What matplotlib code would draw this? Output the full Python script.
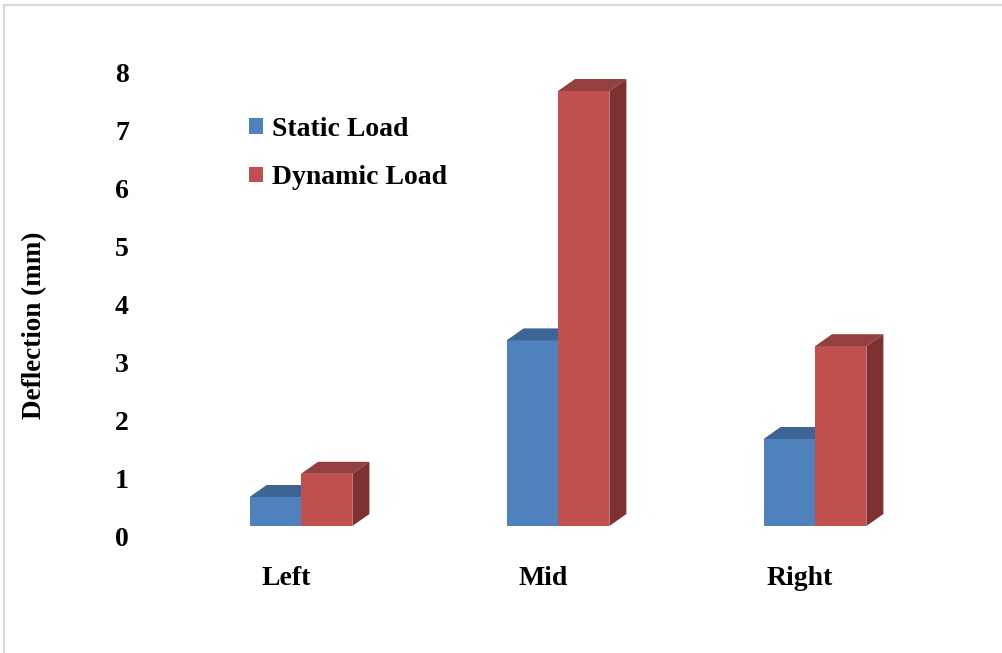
import numpy as np
import matplotlib
matplotlib.use("Agg")
import matplotlib.pyplot as plt
import matplotlib.transforms as mtransforms
from matplotlib.patches import Polygon, Patch, Rectangle

# data
locations = ["Left", "Mid", "Right"]
static_load = [0.5, 3.2, 1.5]
dynamic_load = [0.9, 7.5, 3.1]
series_names = ["Static Load", "Dynamic Load"]
y_ticks = list(range(0, 9))

# colours: front, top, side
blue = ("#4f81bd", "#3d6593", "#345680")
red = ("#c0504d", "#93403e", "#7d3231")

W, H = 1002, 653
fig = plt.figure(figsize=(W / 100, H / 100), dpi=100)
plt.rcParams['font.family'] = ['Liberation Serif', 'DejaVu Serif']
fs = 20

# light frame round the chart area
fig.patches.append(Rectangle((4 / W, -0.05), 1.2, 1 - 5 / H + 0.05, transform=fig.transFigure,
                             fill=False, edgecolor="#d9d9d9", linewidth=1.6))

# axes in pixel terms: x=0 -> 301px, 257px per category; y=0 -> row 526, 58px per unit
left_px, right_px, top_row, bot_row = 140, 960, 40, 560
ax = fig.add_axes([left_px / W, 1 - bot_row / H, (right_px - left_px) / W, (bot_row - top_row) / H])
ax.set_xlim((left_px - 301) / 257, (right_px - 301) / 257)
ax.set_ylim((526 - bot_row) / 58, (526 - top_row) / 58)

bw = 0.2       # bar width (category units)
dx = 17 / 257  # depth offset in x
dy = 12 / 58   # depth offset in y


def bar3d(x0, h, cols, z):
    x1 = x0 + bw
    ax.bar(x0, h, bw, align="edge", color=cols[0], linewidth=0, zorder=z)
    ax.add_patch(Polygon([(x0, h), (x0 + dx, h + dy), (x1 + dx, h + dy), (x1, h)],
                         closed=True, facecolor=cols[1], edgecolor="none", zorder=z))
    ax.add_patch(Polygon([(x1, 0), (x1 + dx, dy), (x1 + dx, h + dy), (x1, h)],
                         closed=True, facecolor=cols[2], edgecolor="none", zorder=z))


for i, (s, d) in enumerate(zip(static_load, dynamic_load)):
    bar3d(i - bw, s, blue, 2 + i * 2)
    bar3d(i, d, red, 3 + i * 2)

for sp in ax.spines.values():
    sp.set_visible(False)

ax.set_yticks(y_ticks)
ax.set_yticklabels([str(t) for t in y_ticks], fontsize=fs, fontweight="bold")
ax.set_xticks(range(len(locations)))
ax.set_xticklabels(locations, fontsize=fs, fontweight="bold")
ax.tick_params(axis="y", length=0, pad=8)
ax.tick_params(axis="x", length=0, pad=4)

# shift labels like the 3-D chart does
off_y = mtransforms.ScaledTranslation(0, -11 / 100, fig.dpi_scale_trans)
for lab in ax.get_yticklabels():
    lab.set_transform(lab.get_transform() + off_y)
off_x = mtransforms.ScaledTranslation(-15 / 100, 0, fig.dpi_scale_trans)
for lab in ax.get_xticklabels():
    lab.set_transform(lab.get_transform() + off_x)

fig.text(35 / W, 1 - 325 / H, "Deflection (mm)", rotation=90, ha="center", va="center",
         fontsize=19.5, fontweight="bold")

handles = [Patch(facecolor=blue[0], edgecolor="none"), Patch(facecolor=red[0], edgecolor="none")]
ax.legend(handles, series_names, loc="upper left", bbox_to_anchor=(249 / W, 1 - 117 / H),
          bbox_transform=fig.transFigure, frameon=False,
          prop={"size": fs, "weight": "bold"}, handlelength=0.5, handleheight=0.5,
          handletextpad=0.32, labelspacing=0.84, borderpad=0, borderaxespad=0)

fig.savefig("out.png", dpi=100)
